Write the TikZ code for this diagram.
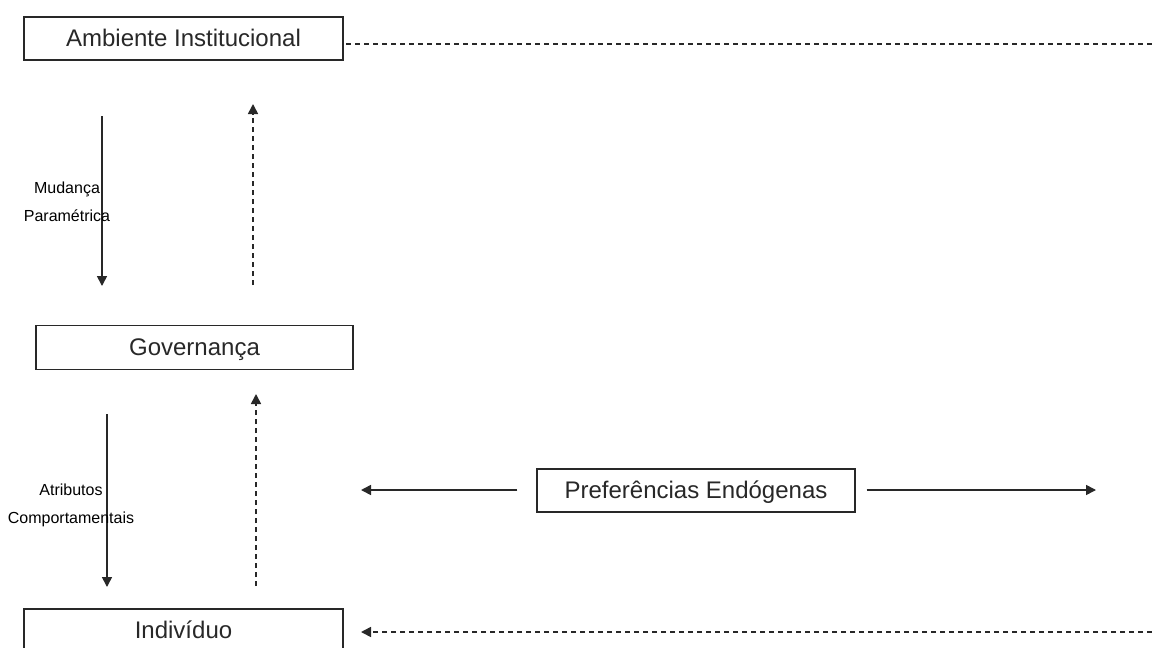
\documentclass[tikz,border=0pt]{standalone}
\usepackage{fontspec}
\setmainfont{Liberation Sans}
\usetikzlibrary{arrows.meta}
\definecolor{ink}{RGB}{40,40,40}
\tikzset{
  box/.style={draw=ink, line width=1.4pt, text=ink, font=\fontsize{24}{28}\selectfont,
    minimum width=319pt, minimum height=43pt, inner sep=0pt, text height=16pt, text depth=1pt},
  lbl/.style={text=black, font=\fontsize{16}{19}\selectfont, inner sep=0pt, anchor=base},
  conn/.style={draw=ink, line width=1.6pt, -{Triangle[length=10pt,width=10pt]}},
  dconn/.style={conn, dash pattern=on 5pt off 4pt},
  dline/.style={draw=ink, line width=1.4pt, dash pattern=on 5pt off 4pt}
}
\begin{document}
\begin{tikzpicture}[x=1pt,y=-1pt]
\clip (0,0) rectangle (1152,648);
\fill[white] (0,0) rectangle (1152,648);

\node[box] (amb) at (183.5,38.5) {Ambiente Institucional};
\node[box, minimum width=317pt, minimum height=44pt] (gov) at (194.5,347.5) {Governança};
\node[box] (ind) at (183.5,630.5) {Indivíduo};
\node[box, minimum width=318pt] (pref) at (696,490.5) {Preferências Endógenas};

% top dashed line
\coordinate (t1) at (346,44);
\coordinate (t2) at (1152,44);
\draw[dline] (t1) -- (t2);

% vertical arrows upper
\coordinate (a1s) at (102,116);
\coordinate (a1e) at (102,286);
\draw[conn] (a1s) -- (a1e);
\coordinate (a2s) at (253,285);
\coordinate (a2e) at (253,104);
\draw[dconn] (a2s) -- (a2e);

% vertical arrows lower
\coordinate (a3s) at (107,414);
\coordinate (a3e) at (107,587);
\draw[conn] (a3s) -- (a3e);
\coordinate (a4s) at (256,586);
\coordinate (a4e) at (256,394);
\draw[dconn] (a4s) -- (a4e);

% labels
\node[lbl] (l1) at (67,193) {Mudança};
\node[lbl] (l2) at (67,221) {Paramétrica};
\node[lbl] (l3) at (71,495) {Atributos};
\node[lbl] (l4) at (71,523) {Comportamentais};

% preference arrows
\coordinate (pl) at (361,490);
\coordinate (pr) at (1096,490);
\draw[conn] ([xshift=-19pt]pref.west |- 0,490) -- (pl);
\draw[conn] ([xshift=11pt]pref.east |- 0,490) -- (pr);

% bottom dashed arrow
\coordinate (b1) at (1152,632);
\coordinate (b2) at (361,632);
\draw[dconn] (b1) -- (b2);
\end{tikzpicture}
\end{document}
